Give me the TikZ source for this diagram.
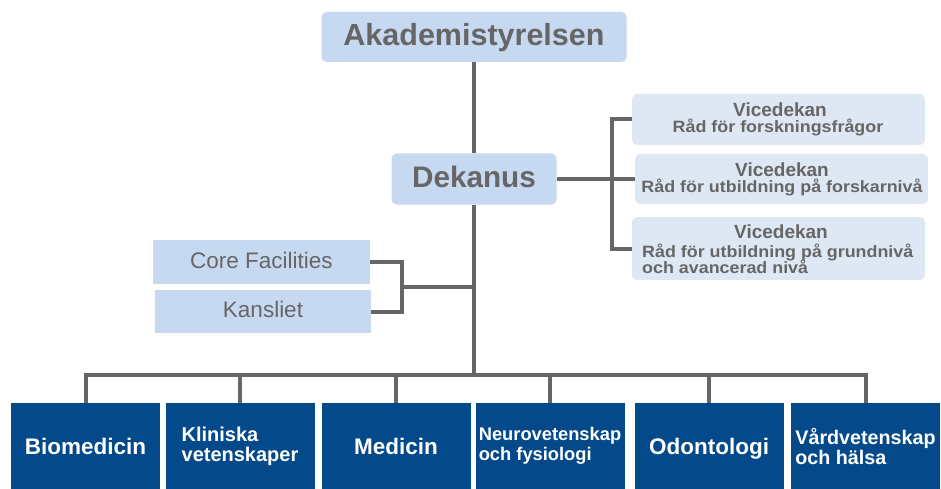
\documentclass[tikz,border=0pt]{standalone}
\usepackage{fontspec}
\usepackage{graphicx}
\setmainfont{Liberation Sans}
\usetikzlibrary{calc}

\definecolor{lineGray}{HTML}{666666}
\definecolor{textGray}{HTML}{666666}
\definecolor{boardBlue}{HTML}{C6D9F1}
\definecolor{viceBlue}{HTML}{DEE8F4}
\definecolor{deptBlue}{HTML}{044A8A}

% font size with equal baselineskip
\newcommand\setfs[1]{\fontsize{#1}{#1}\selectfont}
\newcommand\setfsb[2]{\fontsize{#1}{#2}\selectfont}
% slightly widened lettering for the vice-dean councils
\newcommand\widen[1]{\scalebox{1.09}[1]{#1}}

\begin{document}
\begin{tikzpicture}[x=1pt,y=-1pt,
  conn/.style={draw=lineGray, line width=4pt},
  topbox/.style={fill=boardBlue, rounded corners=5pt, text=textGray,
    inner sep=0pt, text height=22pt, text depth=5pt},
  vicebox/.style={fill=viceBlue, rounded corners=5pt, inner sep=0pt},
  vtitle/.style={anchor=base, inner sep=0pt, text=textGray, font=\bfseries\setfs{19}},
  vsub/.style={anchor=base, inner sep=0pt, text=textGray, font=\bfseries\setfs{16.4}},
  staffbox/.style={fill=boardBlue, inner sep=0pt, text=textGray,
    font=\setfs{22.5}, text height=16pt, text depth=4pt},
  dept/.style={fill=deptBlue, inner sep=0pt, text=white,
    minimum width=149pt, minimum height=86pt},
  deptone/.style={dept, font=\bfseries\setfs{22.5}, text height=16pt, text depth=0pt},
  depttwo/.style={dept, align=left}
]
\useasboundingbox (0,0) rectangle (941,489);

% board and dean
\node[topbox, font=\bfseries\setfs{30.5}, minimum width=305pt, minimum height=50pt] (ak) at (474,37) {Akademistyrelsen};
\node[topbox, font=\bfseries\setfs{29.7}, minimum width=165pt, minimum height=51pt] (dek) at (474,179) {Dekanus};

% vice deans
\node[vicebox, minimum width=293pt, minimum height=51pt] (v1) at (778.5,119.5) {};
\node[vicebox, minimum width=293pt, minimum height=50pt] (v2) at (781.5,179) {};
\node[vicebox, minimum width=293pt, minimum height=63pt] (v3) at (778.5,248.5) {};

\node[vtitle] (v1a) at (780,116.5) {Vicedekan};
\node[vsub] (v1b) at (778,133) {\widen{Råd för forskningsfrågor}};
\node[vtitle] (v2a) at (782,176.5) {Vicedekan};
\node[vsub] (v2b) at (782,193) {\widen{Råd för utbildning på forskarnivå}};
\node[vtitle] (v3a) at (781,238) {Vicedekan};
\node[vsub, anchor=base west] (v3b) at (642,257.5) {\widen{Råd för utbildning på grundnivå}};
\node[vsub, anchor=base west] (v3c) at (642,273.5) {\widen{och avancerad nivå}};

% staff units
\node[staffbox, minimum width=217pt, minimum height=44pt] (core) at (261.5,262) {Core Facilities};
\node[staffbox, minimum width=216pt, minimum height=43pt] (kan) at (263,311.5) {Kansliet};

% departments
\node[deptone] (d1) at (85.5,446) {Biomedicin};
\node[depttwo, font=\bfseries\setfsb{20}{20}] (d2) at (240,446) {Kliniska\\vetenskaper};
\node[deptone] (d3) at (396,446) {Medicin};
\node[depttwo, font=\bfseries\setfsb{18.3}{19.5}] (d4) at (550,446) {Neurovetenskap\\och fysiologi};
\node[deptone] (d5) at (709,446) {Odontologi};
\node[depttwo, font=\bfseries\setfsb{19.7}{20}] (d6) at (865.5,446) {Vårdvetenskap\\och hälsa};

% junction points
\coordinate (bus) at (474,375);
\coordinate (vb) at (612,179);
\coordinate (cb) at (402,287);

% connectors
\draw[conn] (ak.south) -- (dek.north);
\draw[conn] (dek.south) -- (bus);
\draw[conn] (d1.north) |- (bus) -| (d6.north);
\foreach \d in {d2,d3,d4,d5}
  \draw[conn] (\d.north) -- (\d.north |- bus);
\draw[conn] (dek.east) -- (v2.west);
\draw[conn] (v1.west) -| (vb) |- (v3.west);
\draw[conn] (core.east) -| (cb) |- (kan.east);
\draw[conn] (cb) -- (cb -| bus);
\end{tikzpicture}
\end{document}
